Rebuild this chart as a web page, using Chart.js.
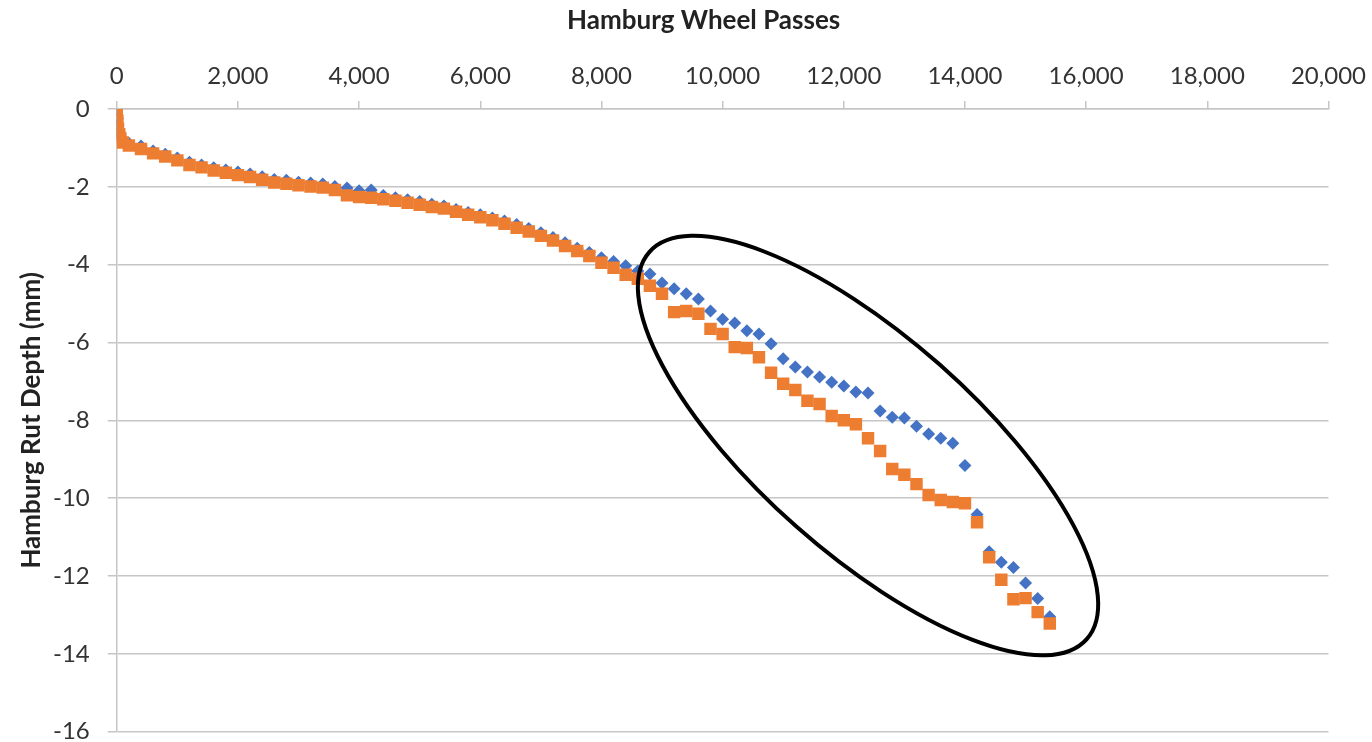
<!DOCTYPE html>
<html>
<head>
<meta charset="utf-8">
<title>Hamburg Wheel Tracking</title>
<script src="https://cdn.jsdelivr.net/npm/chart.js@4/dist/chart.umd.min.js"></script>
<style>
  html, body { margin: 0; padding: 0; background: #fff; }
  #wrap { width: 1372px; height: 742px; }
</style>
</head>
<body>
<div id="wrap"><canvas id="chart-hwt" width="1372" height="742"></canvas></div>
<script>
// ── Data ──────────────────────────────────────────────────────────────────
// Wheel passes shared by both specimens; rut depth in mm
const PASSES = [
  0, 10, 20, 40, 60, 100, 200, 400, 600, 800,
  1000, 1200, 1400, 1600, 1800, 2000, 2200, 2400, 2600, 2800,
  3000, 3200, 3400, 3600, 3800, 4000, 4200, 4400, 4600, 4800,
  5000, 5200, 5400, 5600, 5800, 6000, 6200, 6400, 6600, 6800,
  7000, 7200, 7400, 7600, 7800, 8000, 8200, 8400, 8600, 8800,
  9000, 9200, 9400, 9600, 9800, 10000, 10200, 10400, 10600, 10800,
  11000, 11200, 11400, 11600, 11800, 12000, 12200, 12400, 12600, 12800,
  13000, 13200, 13400, 13600, 13800, 14000, 14200, 14400, 14600, 14800,
  15000, 15200, 15400
];

const RUT_BLUE = [
  0, -0.25, -0.42, -0.58, -0.7, -0.8, -0.88, -0.95, -1.08, -1.16,
  -1.26, -1.37, -1.44, -1.51, -1.57, -1.62, -1.67, -1.74, -1.81, -1.83,
  -1.88, -1.9, -1.93, -1.99, -2.03, -2.1, -2.08, -2.22, -2.28, -2.33,
  -2.38, -2.45, -2.49, -2.58, -2.66, -2.72, -2.8, -2.88, -2.97, -3.07,
  -3.18, -3.3, -3.44, -3.58, -3.69, -3.82, -3.92, -4.03, -4.16, -4.24,
  -4.47, -4.62, -4.75, -4.88, -5.19, -5.4, -5.5, -5.7, -5.78, -6.03,
  -6.42, -6.63, -6.76, -6.89, -7.02, -7.12, -7.27, -7.3, -7.76, -7.92,
  -7.94, -8.15, -8.35, -8.46, -8.59, -9.16, -10.42, -11.38, -11.65, -11.78,
  -12.18, -12.58, -13.05
];

const RUT_ORANGE = [
  0, -0.3, -0.5, -0.65, -0.76, -0.86, -0.94, -1.03, -1.14, -1.22,
  -1.32, -1.44, -1.5, -1.58, -1.64, -1.7, -1.75, -1.82, -1.89, -1.92,
  -1.96, -1.99, -2.02, -2.08, -2.22, -2.26, -2.28, -2.32, -2.36, -2.41,
  -2.46, -2.52, -2.56, -2.64, -2.72, -2.78, -2.86, -2.95, -3.05, -3.15,
  -3.26, -3.38, -3.52, -3.65, -3.78, -3.95, -4.08, -4.26, -4.36, -4.54,
  -4.75, -5.22, -5.19, -5.26, -5.65, -5.78, -6.12, -6.14, -6.38, -6.78,
  -7.06, -7.22, -7.5, -7.58, -7.89, -8.0, -8.1, -8.46, -8.79, -9.25,
  -9.4, -9.64, -9.92, -10.05, -10.1, -10.13, -10.62, -11.52, -12.1, -12.6,
  -12.57, -12.93, -13.22
];

// Axis ranges / tick steps
const X_RANGE = [0, 20000];
const X_STEP  = 2000;
const Y_RANGE = [-16, 0];
const Y_STEP  = 2;

// ── Helpers ───────────────────────────────────────────────────────────────

const FONT_FAMILY = 'Lato, "Open Sans", sans-serif';
const GRID_GREY   = '#c6c6c6';

function toPoints(xs, ys) {
  return xs.map((x, i) => ({ x, y: ys[i] }));
}

// Hand-drawn ellipse round the divergence region (center in data units,
// radii in "passes" so it scales with the x axis)
const ELLIPSE = { cx: 12400, cy: -8.65, rx: 4820, ry: 1785, angleDeg: 41.5 };

const ellipseMark = {
  id: 'ellipseMark',
  afterDatasetsDraw(chart) {
    const { ctx, scales: { x, y } } = chart;
    const cx = x.getPixelForValue(ELLIPSE.cx);
    const cy = y.getPixelForValue(ELLIPSE.cy);
    const pxPerPass = (x.getPixelForValue(1000) - x.getPixelForValue(0)) / 1000;
    ctx.save();
    ctx.beginPath();
    ctx.ellipse(cx, cy, ELLIPSE.rx * pxPerPass, ELLIPSE.ry * pxPerPass,
                ELLIPSE.angleDeg * Math.PI / 180, 0, Math.PI * 2);
    ctx.lineWidth = 4;
    ctx.strokeStyle = '#000';
    ctx.stroke();
    ctx.restore();
  }
};

// ── Chart ─────────────────────────────────────────────────────────────────

const ctx = document.getElementById('chart-hwt').getContext('2d');

new Chart(ctx, {
  type: 'scatter',
  data: {
    datasets: [
      {
        label: 'Specimen A',
        data: toPoints(PASSES, RUT_BLUE),
        pointStyle: 'rectRot',
        pointRadius: 6.5,
        backgroundColor: '#4472C4',
        borderColor: '#4472C4',
        borderWidth: 0,
        order: 2,
      },
      {
        label: 'Specimen B',
        data: toPoints(PASSES, RUT_ORANGE),
        pointStyle: 'rect',
        pointRadius: 8.8,
        backgroundColor: '#ED7D31',
        borderColor: '#ED7D31',
        borderWidth: 0,
        order: 1,
      },
    ]
  },
  options: {
    responsive: false,
    animation: false,
    events: [],
    layout: { padding: { top: 0, right: 41, bottom: 0, left: 0 } },
    plugins: {
      legend: { display: false },
      tooltip: { enabled: false },
    },
    scales: {
      x: {
        type: 'linear',
        position: 'top',
        min: X_RANGE[0],
        max: X_RANGE[1],
        ticks: {
          stepSize: X_STEP,
          color: '#333',
          font: { family: FONT_FAMILY, size: 24 },
          padding: 6,
          callback: v => v.toLocaleString('en-US'),
        },
        grid: {
          drawOnChartArea: false,
          drawTicks: true,
          tickLength: 12,
          // visible tick is the 8px next to the axis
          tickBorderDash: [0, 4, 8, 40],
          color: GRID_GREY,
          lineWidth: 1.5,
        },
        border: { display: true, color: GRID_GREY, width: 1.5 },
        title: {
          display: true,
          // trailing spaces nudge the centred title left, as in the source
          text: 'Hamburg Wheel Passes      ',
          color: '#222',
          font: { family: FONT_FAMILY, size: 26, weight: 'bold' },
          padding: { top: 5, bottom: 20 },
        },
      },
      y: {
        type: 'linear',
        min: Y_RANGE[0],
        max: Y_RANGE[1],
        ticks: {
          stepSize: Y_STEP,
          color: '#333',
          // tiny line height keeps the end labels from eating plot height
          font: { family: FONT_FAMILY, size: 24, lineHeight: 0.2 },
          padding: 8,
        },
        grid: {
          drawTicks: true,
          tickLength: 19,
          // only the 9px next to the axis is visible as a tick mark
          tickBorderDash: [0, 10, 9, 60],
          color: GRID_GREY,
          lineWidth: 1.5,
        },
        border: { display: true, color: GRID_GREY, width: 1.5 },
        title: {
          display: true,
          text: 'Hamburg Rut Depth (mm)',
          color: '#222',
          font: { family: FONT_FAMILY, size: 26, weight: 'bold', lineHeight: 1.0 },
          padding: { top: 19, bottom: 0 },
        },
      },
    },
  },
  plugins: [ellipseMark],
});
</script>
</body>
</html>
